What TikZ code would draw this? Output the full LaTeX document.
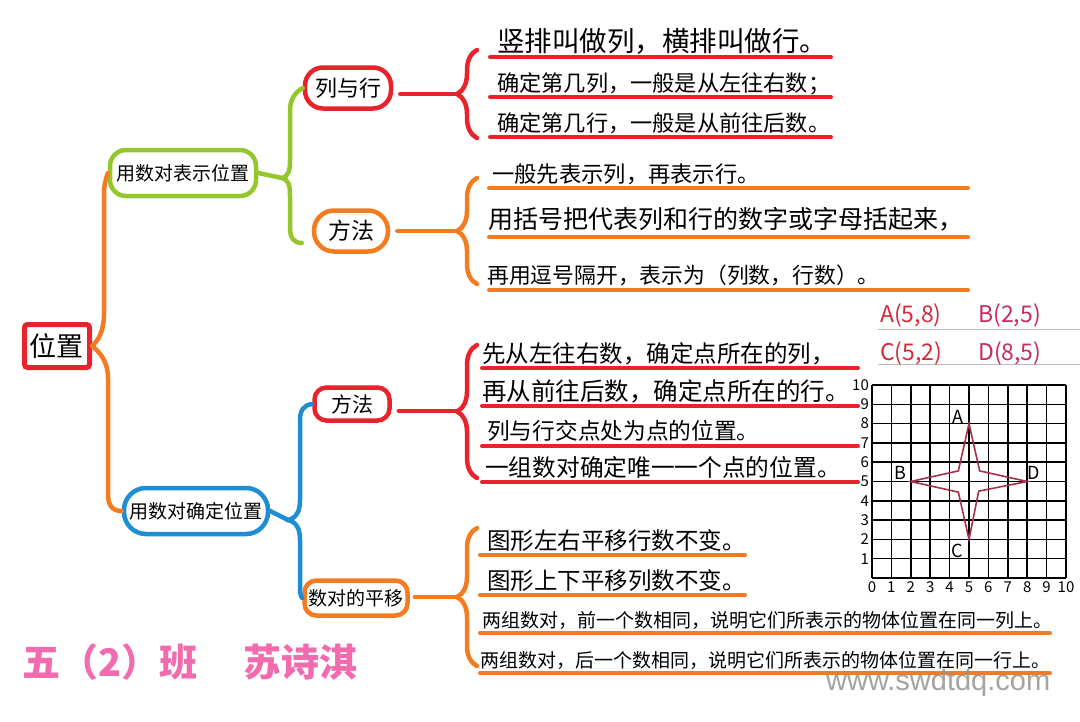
\documentclass[tikz,border=0pt]{standalone}
\usepackage{fontspec}
\setmainfont{Liberation Sans}
\newfontfamily\cjk{Noto Sans CJK SC}
\usetikzlibrary{decorations.pathreplacing}

\definecolor{mmred}{HTML}{E8232B}
\definecolor{mmorange}{HTML}{F47B20}
\definecolor{mmgreen}{HTML}{93C72B}
\definecolor{mmblue}{HTML}{1F8DD3}
\definecolor{mmpink}{HTML}{F26BAF}
\definecolor{ptred}{HTML}{D42A3C}
\definecolor{ptrose}{HTML}{C92A5E}
\definecolor{starln}{HTML}{A5304B}

\begin{document}
\begin{tikzpicture}[x=1pt, y=-1pt,
  box/.style={draw, line width=4.5pt, inner sep=0pt, align=center},
  bline/.style={line width=4.5pt, line cap=round},
  brc/.style={decorate, decoration={brace, amplitude=20pt}, line width=4.5pt, line cap=round},
  ul/.style={line width=4pt, line cap=round},
  txt/.style={anchor=base west, inner sep=0pt, font=\cjk\fontsize{#1}{#1}\selectfont},
  lbl/.style={font=\cjk\fontsize{15}{15}\selectfont, inner sep=0pt}
]
  \fill[white] (0,0) rectangle (1080,721);
  \useasboundingbox (0,0) rectangle (1080,721);

  % main boxes
  \node[box, draw=mmred, line width=5pt, rounded corners=3pt, minimum width=65pt, minimum height=43pt,
        font=\cjk\fontsize{27}{27}\selectfont] (pos) at (57,346) {位置};
  \node[box, draw=mmgreen, rounded corners=16pt, minimum width=146pt, minimum height=46pt,
        font=\cjk\fontsize{19}{19}\selectfont] (rep) at (183,173) {用数对表示位置};
  \node[box, draw=mmblue, rounded corners=22pt, minimum width=144pt, minimum height=46pt,
        font=\cjk\fontsize{19}{19}\selectfont] (fix) at (196,511) {用数对确定位置};
  \node[box, draw=mmred, rounded corners=18pt, minimum width=86pt, minimum height=41pt,
        font=\cjk\fontsize{22}{22}\selectfont] (col) at (348,88) {列与行};
  \node[box, draw=mmorange, rounded corners=20pt, minimum width=74pt, minimum height=41pt,
        font=\cjk\fontsize{23}{23}\selectfont] (meth1) at (351,231) {方法};
  \node[box, draw=mmred, rounded corners=12pt, minimum width=75pt, minimum height=33pt,
        font=\cjk\fontsize{21}{21}\selectfont] (meth2) at (352,404) {方法};
  \node[box, draw=mmorange, rounded corners=12pt, minimum width=103pt, minimum height=35pt,
        font=\cjk\fontsize{19}{19}\selectfont] (mv) at (356,598) {数对的平移};

  % branches
  \draw[bline, mmorange] (pos.east) .. controls (99,340) and (104,330) .. (104,314) -- (104,194)
        .. controls (104,184) and (106,179) .. (rep.west);
  \draw[bline, mmorange] (pos.east) .. controls (100,352) and (108,362) .. (108,378) -- (108,494)
        .. controls (108,505) and (112,511) .. (fix.west);
  \draw[bline, mmgreen] (rep.east) -- (282,178) .. controls (289,176) and (290,170) .. (290,160) -- (290,110)
        .. controls (290,100) and (295,92) .. (col.west);
  \draw[bline, mmgreen] (282,178) .. controls (289,180) and (290,186) .. (290,196) -- (290,228)
        .. controls (290,238) and (294,243) .. ([xshift=-10pt, yshift=-12pt]meth1.west);
  \draw[bline, mmblue] (fix.east) -- (288,520) .. controls (296,518) and (300,512) .. (300,500) -- (300,420)
        .. controls (300,410) and (304,405) .. (meth2.west);
  \draw[bline, mmblue] (288,520) .. controls (296,522) and (300,528) .. (300,540) -- (300,588)
        .. controls (300,596) and (302,598) .. (mv.west);

  % braces
  \draw[brc, mmred] (477,138) -- (477,50);
  \coordinate (b1) at (457,94);
  \draw[brc, mmorange] (477,284) -- (477,178);
  \coordinate (b2) at (457,231);
  \draw[brc, mmred] (477,478) -- (477,345);
  \coordinate (b3) at (457,411);
  \draw[brc, mmorange] (477,666) -- (477,528);
  \coordinate (b4) at (457,597);
  \draw[bline, mmred, shorten <=7pt] (col.east |- b1) -- (b1);
  \draw[bline, mmorange, shorten <=7pt] (meth1.east |- b2) -- (b2);
  \draw[bline, mmred, shorten <=7pt] (meth2.east |- b3) -- (b3);
  \draw[bline, mmorange, shorten <=5pt] (mv.east |- b4) -- (b4);

  % lines of text
  \node[txt=27.5] (t1) at (497,51) {竖排叫做列，横排叫做行。};
  \node[txt=22.2] (t2) at (497,91) {确定第几列，一般是从左往右数；};
  \node[txt=22.2] (t3) at (497,131) {确定第几行，一般是从前往后数。};
  \node[txt=22.3] (t4) at (492,182) {一般先表示列，再表示行。};
  \node[txt=25] (t5) at (488,228) {用括号把代表列和行的数字或字母括起来，};
  \node[txt=21.8] (t6) at (487,283) {再用逗号隔开，表示为（列数，行数）。};
  \node[txt=23.5] (t7) at (482,362) {先从左往右数，确定点所在的列，};
  \node[txt=24.5] (t8) at (482,400) {再从前往后数，确定点所在的行。};
  \node[txt=22.7] (t9) at (487,439) {列与行交点处为点的位置。};
  \node[txt=23.7] (t10) at (485,476) {一组数对确定唯一一个点的位置。};
  \node[txt=23.5] (t11) at (487,549) {图形左右平移行数不变。};
  \node[txt=23.5] (t12) at (487,589) {图形上下平移列数不变。};
  \node[txt=19] (t13) at (482,627) {两组数对，前一个数相同，说明它们所表示的物体位置在同一列上。};
  \node[txt=19] (t14) at (480,667) {两组数对，后一个数相同，说明它们所表示的物体位置在同一行上。};

  \foreach \y in {57,97,137} \draw[ul, mmred] (490,\y) -- (831,\y);
  \foreach \y in {188,237,290} \draw[ul, mmorange] (489,\y) -- (968,\y);
  \foreach \y in {368,406,446,482} \draw[ul, mmred] (482,\y) -- (858,\y);
  \foreach \y in {555,595} \draw[ul, mmorange] (480,\y) -- (745,\y);
  \foreach \y in {633,673} \draw[ul, mmorange] (480,\y) -- (1050,\y);

  % points table
  \draw[gray!55, line width=0.8pt] (878,329) -- (1080,329);
  \draw[gray!55, line width=0.8pt] (878,364) -- (1080,364);
  \node[txt=23, text=ptred] (pa) at (880,322) {A(5,8)};
  \node[txt=23, text=ptrose] (pb) at (978,322) {B(2,5)};
  \node[txt=23, text=ptred] (pc) at (880,360) {C(5,2)};
  \node[txt=23, text=ptrose] (pd) at (978,360) {D(8,5)};

  % grid with the star
  \begin{scope}[shift={(872,578)}, x=19.4pt, y=19.3pt]
    \foreach \i in {0,...,10} {
      \draw[line width=1.5pt] (\i,0) -- (\i,10);
      \draw[line width=1.5pt] (0,\i) -- (10,\i);
    }
    \foreach \i in {1,...,10} \node[lbl, anchor=east] at (-0.15,\i) {\i};
    \foreach \i in {0,...,10} \node[lbl, anchor=north] at (\i,-0.2) {\i};
    \draw[starln, line width=1.6pt, line join=miter] (5,8) -- (5.55,5.55) -- (8,5) -- (5.5,4.5) -- (5,2)
          -- (4.45,4.45) -- (2,5) -- (4.45,5.55) -- cycle;
    \node[lbl, font=\cjk\fontsize{18}{18}\selectfont] (la) at (4.45,8.35) {A};
    \node[lbl, font=\cjk\fontsize{18}{18}\selectfont] (lb) at (1.45,5.45) {B};
    \node[lbl, font=\cjk\fontsize{18}{18}\selectfont] (lc) at (4.4,1.4) {C};
    \node[lbl, font=\cjk\fontsize{18}{18}\selectfont] (ld) at (8.35,5.45) {D};
  \end{scope}

  % name and watermark
  \node[anchor=base west, inner sep=0pt, text=mmpink, font=\cjk\bfseries\fontsize{38}{38}\selectfont]
        (cls) at (22,676) {五（2）班};
  \node[anchor=base west, inner sep=0pt, text=mmpink, font=\cjk\bfseries\fontsize{38}{38}\selectfont]
        (who) at (243,676) {苏诗淇};
  \node[anchor=base west, inner sep=0pt, text=gray!85, opacity=0.85, font=\fontsize{29}{29}\selectfont]
        (web) at (826,690) {www.swdtdq.com};
\end{tikzpicture}
\end{document}
